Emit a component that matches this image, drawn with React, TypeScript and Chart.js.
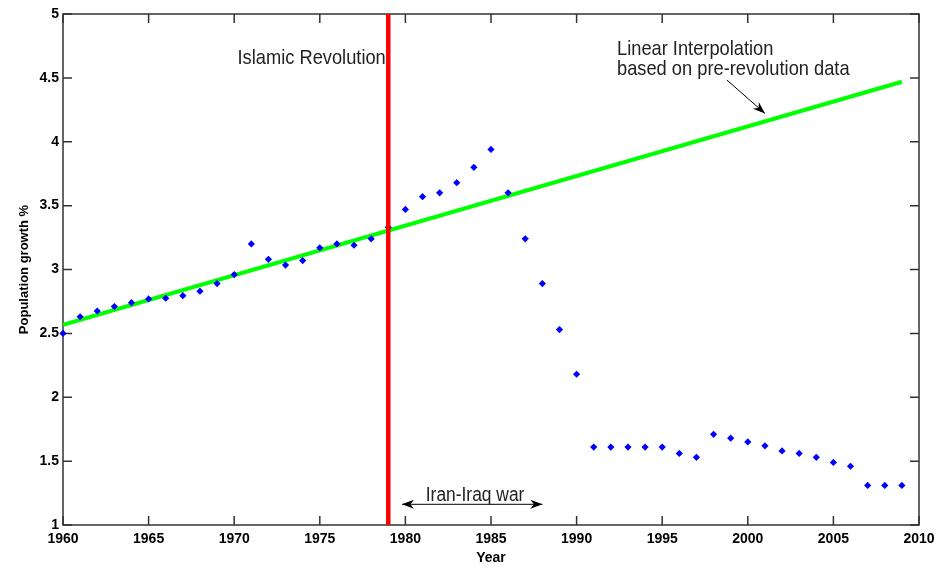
import React, { useEffect, useRef } from "react";
import { Chart, registerables } from "chart.js";

Chart.register(...registerables);

// ---- data ----
const years = [
  1960, 1961, 1962, 1963, 1964, 1965, 1966, 1967, 1968, 1969,
  1970, 1971, 1972, 1973, 1974, 1975, 1976, 1977, 1978, 1979,
  1980, 1981, 1982, 1983, 1984, 1985, 1986, 1987, 1988, 1989,
  1990, 1991, 1992, 1993, 1994, 1995, 1996, 1997, 1998, 1999,
  2000, 2001, 2002, 2003, 2004, 2005, 2006, 2007, 2008, 2009,
];
const growth = [
  2.5, 2.63, 2.675, 2.71, 2.74, 2.77, 2.775, 2.795, 2.83, 2.89,
  2.96, 3.2, 3.08, 3.035, 3.07, 3.17, 3.2, 3.19, 3.24, 3.33,
  3.47, 3.57, 3.6, 3.68, 3.8, 3.94, 3.6, 3.24, 2.89, 2.53,
  2.18, 1.61, 1.61, 1.61, 1.61, 1.61, 1.56, 1.53, 1.71, 1.68,
  1.65, 1.62, 1.58, 1.56, 1.53, 1.49, 1.46, 1.31, 1.31, 1.31,
];
const fitYears = [1960, 2009];
const fitValues = [2.566, 4.47];
const revolutionYear = 1979;
const xTicks = [1960, 1965, 1970, 1975, 1980, 1985, 1990, 1995, 2000, 2005, 2010];
const yTicks = [1, 1.5, 2, 2.5, 3, 3.5, 4, 4.5, 5];
const xLabel = "Year";
const yLabel = "Population growth %";
const revolutionText = "Islamic Revolution";
const fitText = ["Linear Interpolation", "based on pre-revolution data"];
const warText = "Iran-Iraq war";
const warSpan = [1979.8, 1988.0];

const FONT = '"Liberation Sans", Arial, sans-serif';
const AXIS_COLOR = "#333333";
const TEXT_COLOR = "#222222";

function drawNarrowText(
  ctx: CanvasRenderingContext2D,
  text: string,
  x: number,
  y: number,
  align: CanvasTextAlign,
  size: number
) {
  ctx.save();
  ctx.translate(x, y);
  ctx.scale(0.87, 1);
  ctx.font = `${size}px ${FONT}`;
  ctx.fillStyle = TEXT_COLOR;
  ctx.textAlign = align;
  ctx.textBaseline = "alphabetic";
  ctx.fillText(text, 0, 0);
  ctx.restore();
}

function arrowHead(ctx: CanvasRenderingContext2D, tx: number, ty: number, angle: number) {
  const len = 12;
  const hw = 4.5;
  ctx.save();
  ctx.translate(tx, ty);
  ctx.rotate(angle);
  ctx.beginPath();
  ctx.moveTo(0, 0);
  ctx.lineTo(-len, -hw);
  ctx.lineTo(-len * 0.7, 0);
  ctx.lineTo(-len, hw);
  ctx.closePath();
  ctx.fillStyle = "#000";
  ctx.fill();
  ctx.restore();
}

const framePlugin = {
  id: "frame",
  beforeDatasetsDraw(chart: any) {
    const { ctx, chartArea, scales } = chart;
    const { left, right, top, bottom } = chartArea;
    const x = scales.x;
    const y = scales.y;
    const tl = 9;
    ctx.save();
    ctx.strokeStyle = AXIS_COLOR;
    ctx.lineWidth = 1.5;
    ctx.strokeRect(left, top, right - left, bottom - top);
    ctx.beginPath();
    for (const v of xTicks) {
      const px = x.getPixelForValue(v);
      ctx.moveTo(px, bottom);
      ctx.lineTo(px, bottom - tl);
      ctx.moveTo(px, top);
      ctx.lineTo(px, top + tl);
    }
    for (const v of yTicks) {
      const py = y.getPixelForValue(v);
      ctx.moveTo(left, py);
      ctx.lineTo(left + tl, py);
      ctx.moveTo(right, py);
      ctx.lineTo(right - tl, py);
    }
    ctx.stroke();
    ctx.restore();
  },
};

const annotationPlugin = {
  id: "notes",
  afterDatasetsDraw(chart: any) {
    const { ctx, scales } = chart;
    const x = scales.x;
    const y = scales.y;
    // Islamic Revolution label, just left of the red line
    drawNarrowText(ctx, revolutionText, x.getPixelForValue(revolutionYear) - 2.5, y.getPixelForValue(4.609), "right", 21);
    // Linear interpolation label
    drawNarrowText(ctx, fitText[0], x.getPixelForValue(1992.36), y.getPixelForValue(4.679), "left", 21);
    drawNarrowText(ctx, fitText[1], x.getPixelForValue(1992.36), y.getPixelForValue(4.52), "left", 21);
    // arrow pointing to the fit line
    const ax0 = x.getPixelForValue(1998.78);
    const ay0 = y.getPixelForValue(4.483);
    const ax1 = x.getPixelForValue(2001.0);
    const ay1 = y.getPixelForValue(4.222);
    ctx.save();
    ctx.strokeStyle = "#000";
    ctx.lineWidth = 1;
    ctx.beginPath();
    ctx.moveTo(ax0, ay0);
    ctx.lineTo(ax1, ay1);
    ctx.stroke();
    arrowHead(ctx, ax1, ay1, Math.atan2(ay1 - ay0, ax1 - ax0));
    // Iran-Iraq war double arrow
    const wy = y.getPixelForValue(1.162);
    const wx0 = x.getPixelForValue(warSpan[0]);
    const wx1 = x.getPixelForValue(warSpan[1]);
    ctx.beginPath();
    ctx.moveTo(wx0, wy);
    ctx.lineTo(wx1, wy);
    ctx.stroke();
    arrowHead(ctx, wx0, wy, Math.PI);
    arrowHead(ctx, wx1, wy, 0);
    ctx.restore();
    drawNarrowText(ctx, warText, x.getPixelForValue(1984.07), y.getPixelForValue(1.188), "center", 20);
  },
};

export default function App() {
  const ref = useRef<HTMLCanvasElement | null>(null);

  useEffect(() => {
    if (!ref.current) return;
    const chart = new Chart(ref.current, {
      type: "scatter",
      data: {
        datasets: [
          {
            type: "line",
            label: "Revolution",
            data: [
              { x: revolutionYear, y: yTicks[0] },
              { x: revolutionYear, y: yTicks[yTicks.length - 1] },
            ],
            borderColor: "#ff0000",
            backgroundColor: "#ff0000",
            borderWidth: 4.5,
            pointRadius: 0,
            borderCapStyle: "butt",
          } as any,
          {
            type: "scatter",
            label: "Population growth",
            data: years.map((yr, i) => ({ x: yr, y: growth[i] })),
            pointStyle: "rectRot",
            pointRadius: 3.6,
            borderWidth: 0,
            backgroundColor: "#0000ff",
            borderColor: "#0000ff",
            clip: false,
          } as any,
          {
            type: "line",
            label: "Linear Interpolation",
            data: fitYears.map((yr, i) => ({ x: yr, y: fitValues[i] })),
            borderColor: "#00ff00",
            backgroundColor: "#00ff00",
            borderWidth: 4,
            pointRadius: 0,
          } as any,
        ],
      },
      options: {
        animation: false,
        responsive: false,
        layout: { padding: { left: 0, right: 18, top: 14, bottom: 0 } },
        plugins: {
          legend: { display: false },
          tooltip: { enabled: false },
        },
        scales: {
          x: {
            type: "linear",
            min: 1960,
            max: 2010,
            afterBuildTicks: (s: any) => {
              s.ticks = xTicks.map((v) => ({ value: v }));
            },
            afterFit: (s: any) => {
              s.height = 42;
              s.paddingLeft = 0;
              s.paddingRight = 0;
            },
            grid: { display: false, drawTicks: false },
            border: { display: false },
            ticks: {
              padding: 6,
              autoSkip: false,
              maxRotation: 0,
              color: "#000",
              font: { family: FONT, size: 14, weight: "bold" },
              callback: (v: any) => String(v),
            },
            title: {
              display: true,
              text: xLabel,
              color: "#000",
              font: { family: FONT, size: 14, weight: "bold" },
              padding: { top: 0, bottom: 0 },
            },
          },
          y: {
            type: "linear",
            min: 1,
            max: 5,
            afterBuildTicks: (s: any) => {
              s.ticks = yTicks.map((v) => ({ value: v }));
            },
            afterFit: (s: any) => {
              s.width = 63;
              s.paddingTop = 0;
              s.paddingBottom = 0;
            },
            grid: { display: false, drawTicks: false },
            border: { display: false },
            ticks: {
              padding: 4,
              autoSkip: false,
              color: "#000",
              font: { family: FONT, size: 14, weight: "bold" },
              callback: (v: any) => String(v),
            },
            title: {
              display: true,
              text: yLabel,
              color: "#000",
              font: { family: FONT, size: 13, weight: "bold" },
              padding: { top: 17, bottom: 0 },
            },
          },
        },
      } as any,
      plugins: [framePlugin, annotationPlugin],
    });
    return () => chart.destroy();
  }, []);

  return (
    <div style={{ position: "fixed", left: 0, top: 0, width: 937, height: 567, background: "#fff" }}>
      <canvas ref={ref} width={937} height={567} style={{ display: "block" }} />
    </div>
  );
}
